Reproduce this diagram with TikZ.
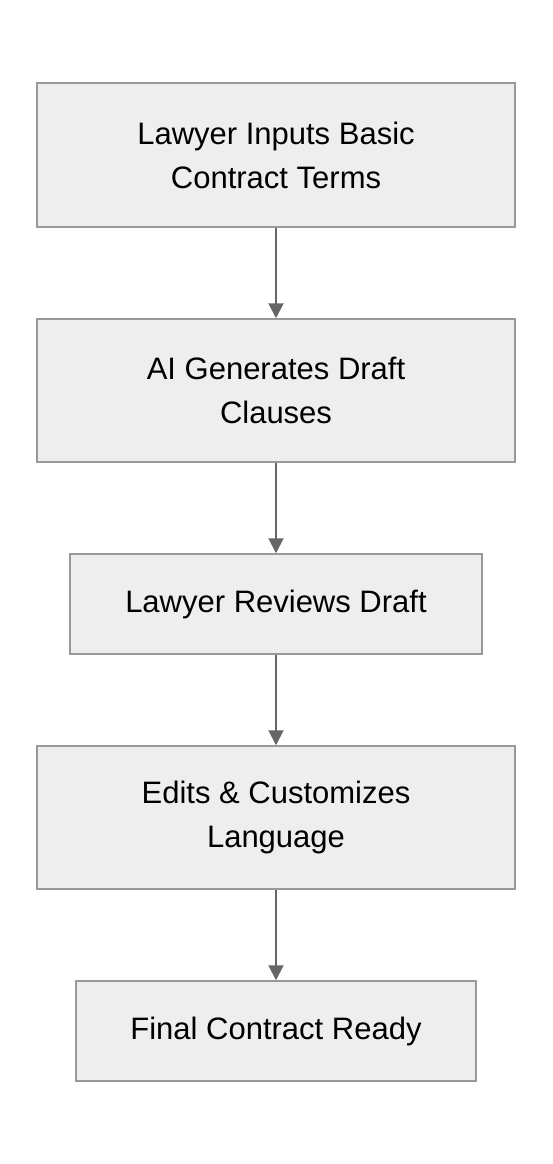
\documentclass[tikz,border=0pt]{standalone}
\usepackage{fontspec}
\setmainfont{Liberation Sans}
\usetikzlibrary{arrows.meta}
\definecolor{boxfill}{HTML}{EEEEEE}
\definecolor{boxline}{HTML}{999999}
\definecolor{arrowcol}{HTML}{666666}
\begin{document}
\begin{tikzpicture}[x=1pt,y=-1pt,
  stepbox/.style={draw=boxline,fill=boxfill,line width=1.5pt,inner sep=0pt,
    align=center,font=\fontsize{31}{44}\selectfont,text=black},
  flow/.style={draw=arrowcol,line width=2pt,-{Triangle[length=15pt,width=15pt]}}]
\useasboundingbox (0,0) rectangle (552,1164);
\fill[white] (0,0) rectangle (552,1164);
\node[stepbox,minimum width=478pt,minimum height=144pt] (a) at (276,155) {Lawyer Inputs Basic\\Contract Terms};
\node[stepbox,minimum width=478pt,minimum height=143pt] (b) at (276,390.5) {AI Generates Draft\\Clauses};
\node[stepbox,minimum width=412pt,minimum height=100pt] (c) at (276,604) {\raisebox{-3pt}{Lawyer Reviews Draft}};
\node[stepbox,minimum width=478pt,minimum height=143pt] (d) at (276,817.5) {Edits \& Customizes\\Language};
\node[stepbox,minimum width=400pt,minimum height=100pt] (e) at (276,1031) {\raisebox{-3pt}{Final Contract Ready}};
\draw[flow] (a) -- (b);
\draw[flow] (b) -- (c);
\draw[flow] (c) -- (d);
\draw[flow] (d) -- (e);
\end{tikzpicture}
\end{document}
